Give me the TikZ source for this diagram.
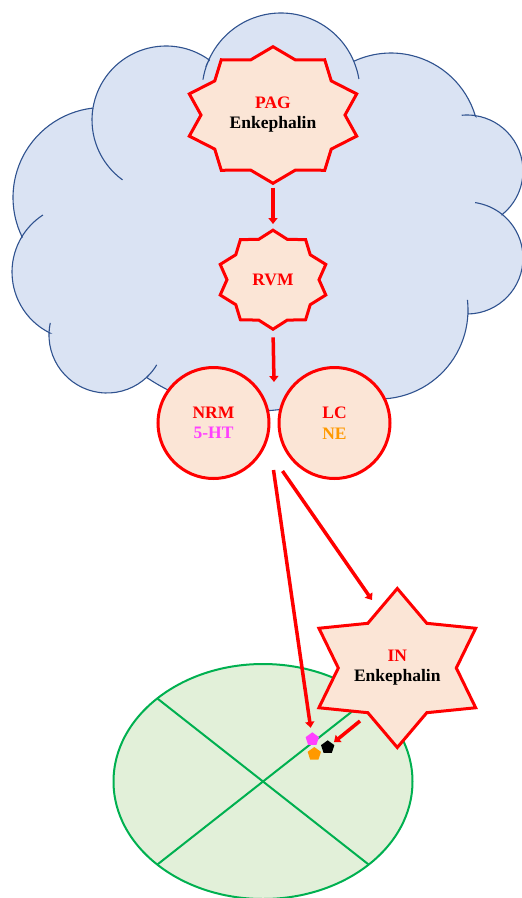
\documentclass[tikz,border=0pt]{standalone}
\usepackage{fontspec}
\setmainfont{Liberation Serif}
\usetikzlibrary{positioning}
\usetikzlibrary{calc}
\usetikzlibrary{shapes.geometric}
\usetikzlibrary{arrows.meta}
\definecolor{cloudfill}{HTML}{DAE3F3}
\definecolor{cloudline}{HTML}{2F528F}
\definecolor{peach}{HTML}{FBE5D6}
\definecolor{cellfill}{HTML}{E2F0D9}
\definecolor{cellline}{HTML}{00B050}
\definecolor{serotonin}{HTML}{FF40FF}
\definecolor{noradr}{HTML}{FF9900}
\tikzset{%
  cloudedge/.style = {draw=cloudline, line width=1.1pt},
  starline/.style = {draw=red, fill=peach, line width=3pt, line join=miter},
  nucleus/.style = {circle, draw=red, fill=peach, line width=3pt,
        minimum size=111pt, inner sep=0pt,
        font=\fontsize{17.5}{20.5}\selectfont\bfseries, align=center},
  lbl/.style = {font=\fontsize{17.5}{20}\selectfont\bfseries,
        align=center, inner sep=0pt},
  redarrow/.style = {-{Triangle[length=6pt,width=9pt]}, draw=red,
        line width=3.5pt},
  pent/.style = {regular polygon, regular polygon sides=5,
        minimum size=14pt, inner sep=0pt}
}
% star outline: centre, points, outer x/y radius, inner x/y radius
\newcommand{\starpoly}[6]{%
  \draw[starline] ($(#1)+(90:#3 and #4)$)
    \foreach \k in {1,...,#2}{
      -- ($(#1)+({90+(\k-0.5)*360/#2}:#5 and #6)$)
      -- ($(#1)+({90+\k*360/#2}:#3 and #4)$)} -- cycle;
}
% inner end of a cloud puff
\newcommand{\puff}[4]{%
  \draw[cloudedge] ([shift={(#2:#4)}]#1)
    arc[start angle=#2, end angle=#3, radius=#4pt];
}
\begin{document}
\begin{tikzpicture}[x=1pt, y=1pt]
    \useasboundingbox (0,0) rectangle (522,-898);
    % cloud
    \coordinate (cT) at (281,-92);
    \coordinate (cUL) at (166,-120);
    \coordinate (cL) at (103,-197.5);
    \coordinate (cLL) at (80,-272);
    \coordinate (cBL) at (107,-335);
    \coordinate (cM) at (256,-216);
    \coordinate (cBR) at (379,-310);
    \coordinate (cRL) at (467,-258);
    \coordinate (cRU) at (467,-171);
    \coordinate (cUR) at (391,-141);
    \path[cloudedge, fill=cloudfill]
        ([shift={(23:79)}]cT) arc[start angle=23, end angle=158, radius=79pt]
        -- ([shift={(54.1:74)}]cUL) arc[start angle=54.1, end angle=170.7, radius=74pt]
        -- ([shift={(96.4:90)}]cL) arc[start angle=96.4, end angle=206, radius=90pt]
        -- ([shift={(148.9:68)}]cLL) arc[start angle=148.9, end angle=243.8, radius=68pt]
        -- ([shift={(178:58)}]cBL) arc[start angle=178, end angle=313.6, radius=58pt]
        -- ([shift={(235.9:195)}]cM) arc[start angle=235.9, end angle=295, radius=195pt]
        -- ([shift={(243.2:89)}]cBR) arc[start angle=243.2, end angle=358, radius=89pt]
        -- ([shift={(271:56)}]cRL) arc[start angle=271, end angle=411.2, radius=56pt]
        -- ([shift={(308.8:56)}]cRU) arc[start angle=308.8, end angle=441.7, radius=56pt]
        -- ([shift={(16.6:88)}]cUR) arc[start angle=16.6, end angle=114.8, radius=88pt]
        -- cycle;
    \puff{cT}{158}{171}{79}
    \puff{cT}{23}{9.5}{79}
    \puff{cUL}{170.7}{234}{74}
    \puff{cLL}{148.9}{123}{68}
    \puff{cBL}{178}{168}{58}
    \puff{cBL}{313.6}{329}{58}
    \puff{cBR}{358}{366.5}{89}
    \puff{cRL}{411.2}{441.7}{56}
    \puff{cRU}{441.7}{455.4}{56}

    % brainstem
    \coordinate (pagc) at (273,-115);
    \starpoly{pagc}{10}{88}{68.3}{72}{58}
    \node[lbl, minimum width=176pt, minimum height=136.6pt] (pag) at (pagc)
        {\textcolor{red}{PAG}\\Enkephalin};
    \coordinate (rvmc) at (273,-279.7);
    \starpoly{rvmc}{10}{55.5}{49.5}{46}{42.5}
    \node[lbl, text=red, minimum width=111pt, minimum height=99pt] (rvm) at (rvmc) {RVM};
    \node[nucleus] (nrm) at (213.5,-423)
        {\textcolor{red}{NRM}\\\textcolor{serotonin}{5-HT}};
    \node[nucleus, right=7pt of nrm] (lc)
        {\textcolor{red}{LC}\\\textcolor{noradr}{NE}};
    \coordinate (gap) at ($(nrm)!0.5!(lc)+(0,41)$);
    \coordinate (s1) at ($(nrm)!0.5!(lc)+(-0.5,-47)$);
    \coordinate (s2) at ($(nrm)!0.5!(lc)+(8.5,-48)$);

    % spinal cord
    \node[ellipse, draw=cellline, fill=cellfill, line width=2pt,
        minimum width=299pt, minimum height=235pt, inner sep=0pt] (cell) at (263,-781.5) {};
    \draw[cellline, line width=2pt] ($(cell)+(135:149.5 and 117.5)$) -- ($(cell)+(-45:149.5 and 117.5)$);
    \draw[cellline, line width=2pt] ($(cell)+(225:149.5 and 117.5)$) -- ($(cell)+(45:149.5 and 117.5)$);
    \coordinate (inc) at (397.3,-668);
    \starpoly{inc}{6}{90.5}{79.5}{59}{51.6}
    \node[lbl, minimum width=181pt, minimum height=159pt] (in) at (inc)
        {\textcolor{red}{IN}\\Enkephalin};
    \coordinate (inhit) at (372,-600);
    \coordinate (inout) at (360,-721);
    \node[pent, fill=serotonin] (ht) at (312.3,-739.3) {};
    \node[pent, fill=black] (enk) at (327.7,-747.3) {};
    \node[pent, fill=noradr] (ne) at (314.3,-754) {};

    % pathways
    \draw[redarrow, shorten <=4pt, shorten >=6pt] (pag.south) -- (rvm.north);
    \draw[redarrow, shorten <=8pt] (rvm.south) -- (gap);
    \draw[redarrow, shorten >=5pt] (s1) -- (ht);
    \draw[redarrow] (s2) -- (inhit);
    \draw[redarrow, shorten >=2pt] (inout) -- (enk);
\end{tikzpicture}
\end{document}
